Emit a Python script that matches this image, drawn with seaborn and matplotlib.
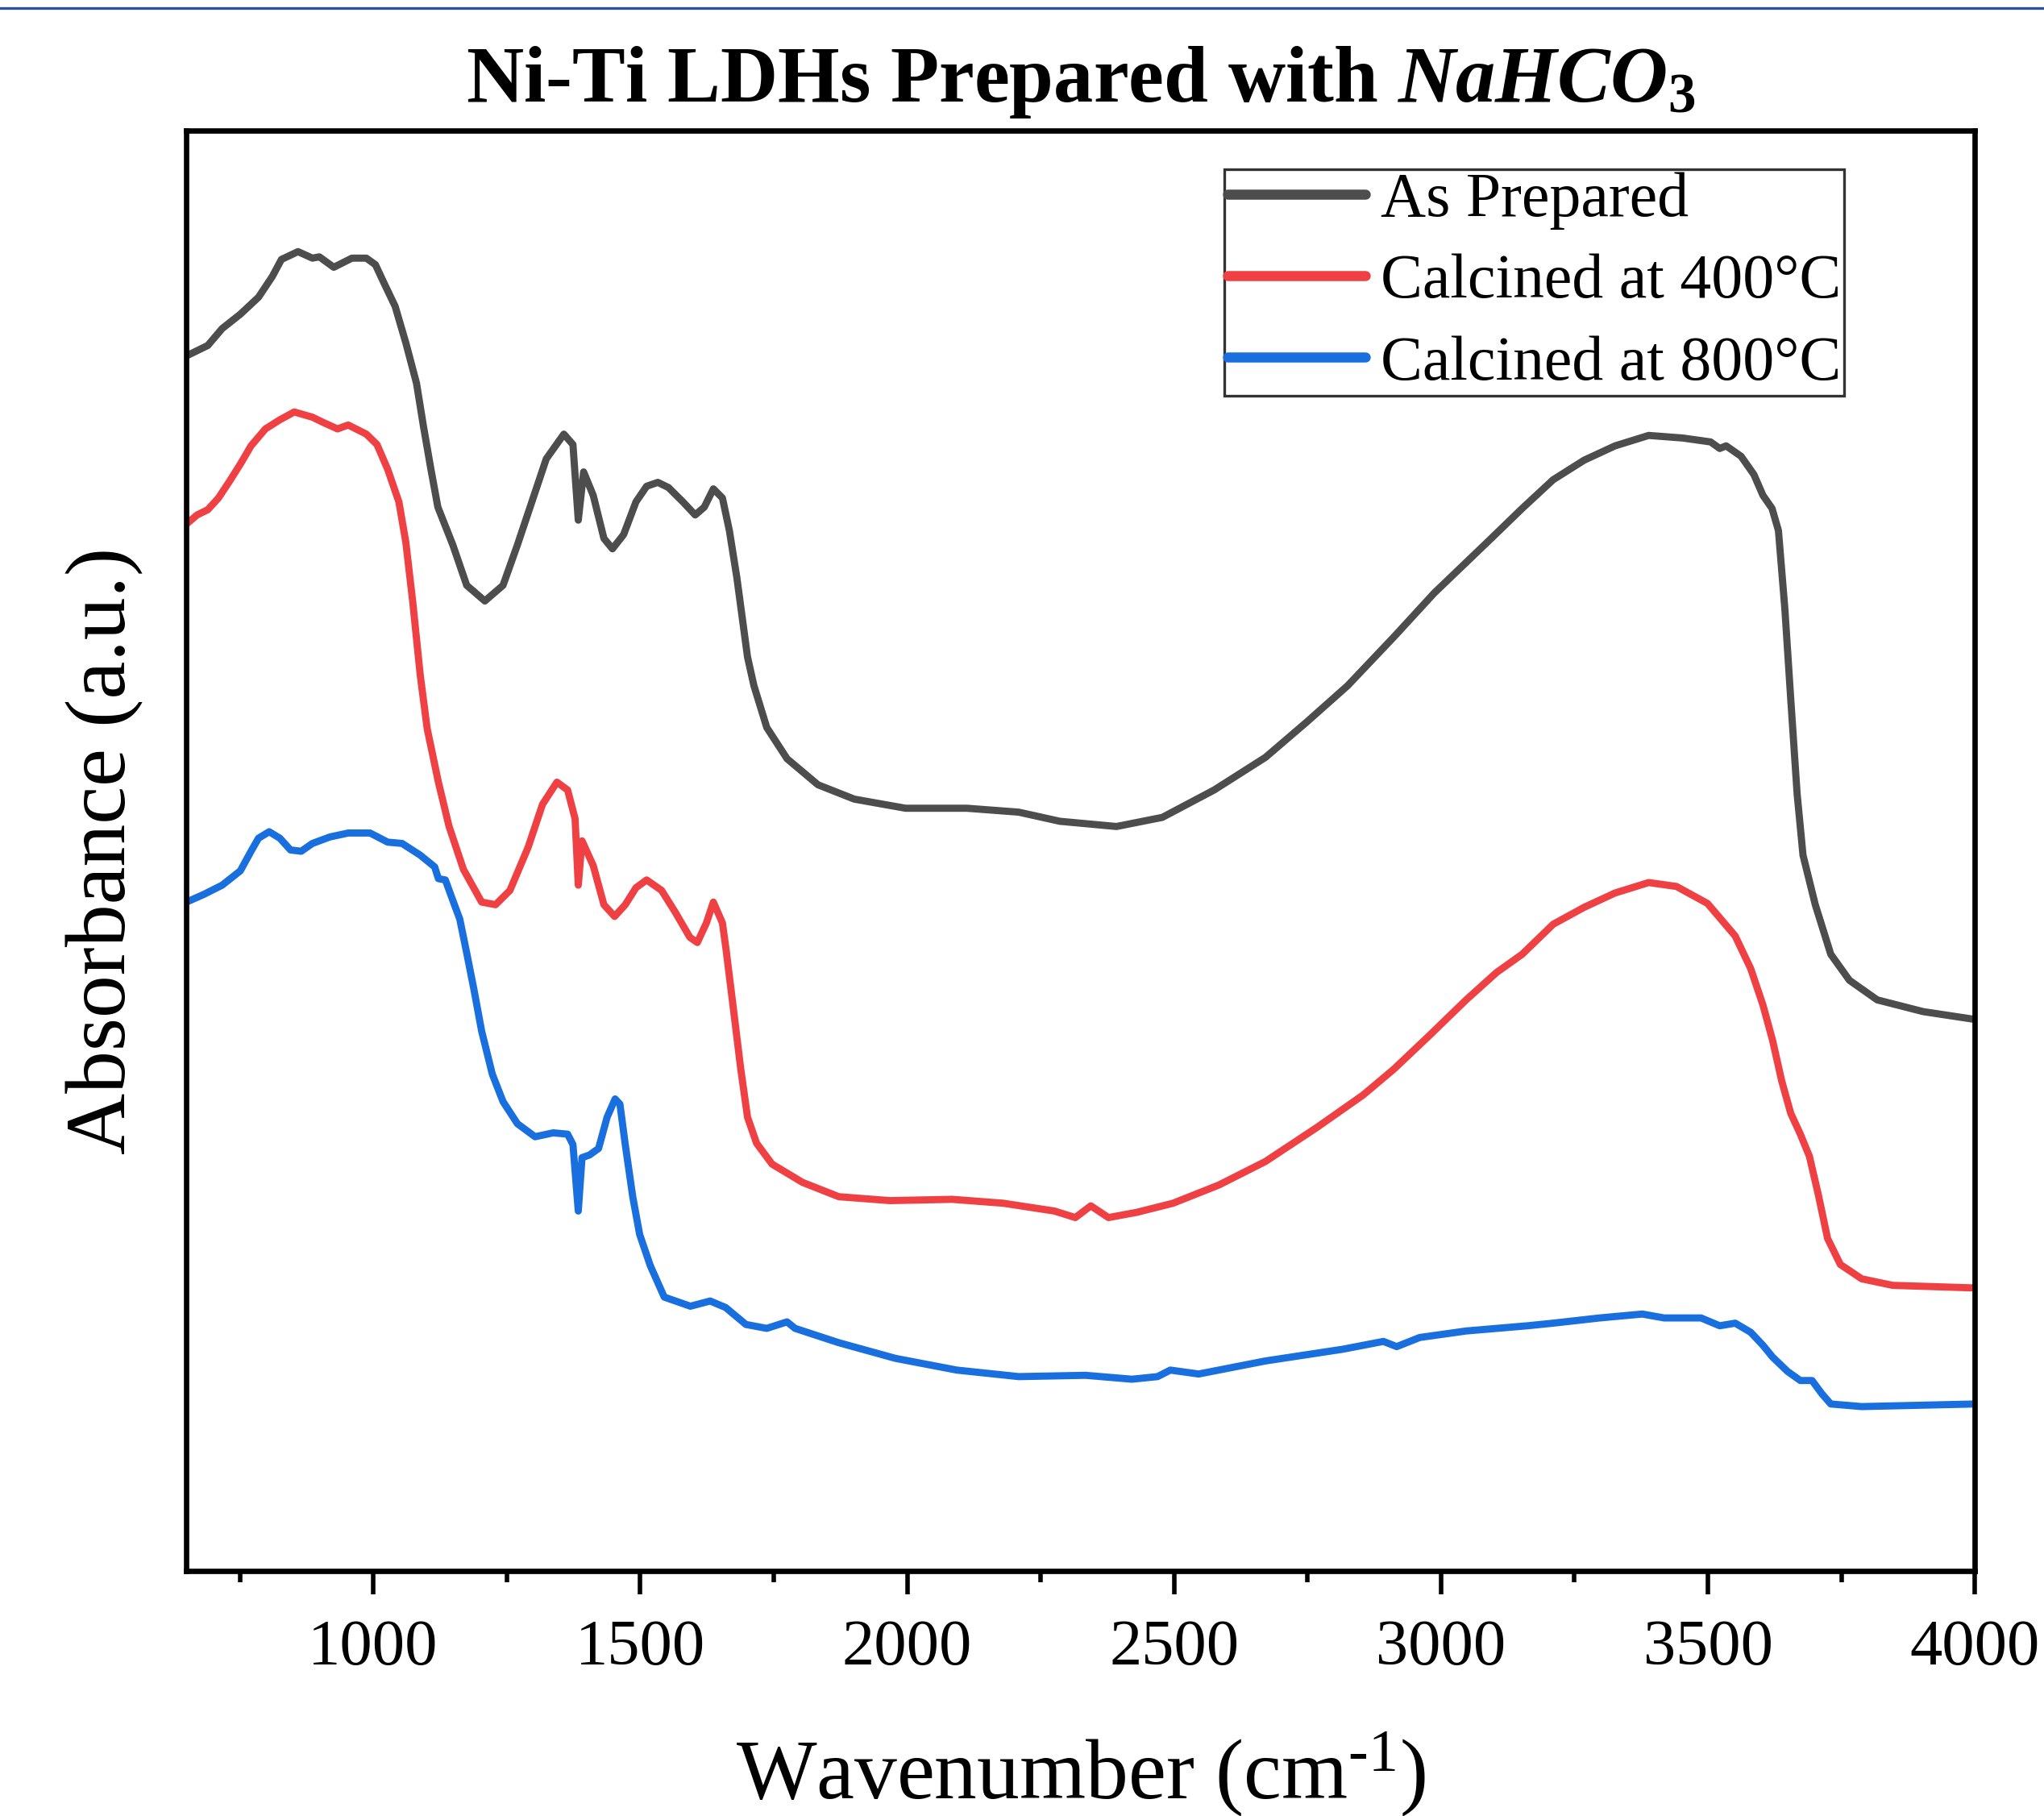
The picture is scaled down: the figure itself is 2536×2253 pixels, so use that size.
import numpy as np
import pandas as pd
import matplotlib
matplotlib.use("Agg")
import matplotlib.pyplot as plt
import seaborn as sns
from matplotlib.lines import Line2D
from matplotlib.ticker import MultipleLocator

# ---------------- data (arbitrary absorbance units, stacked as in the figure) ----------------
wn_prepared = [650, 690, 717, 751, 785, 811, 828, 859, 886, 899,
               926, 960, 987, 1004, 1020, 1041, 1061, 1081, 1094, 1108,
               1121, 1149, 1175, 1209, 1243, 1270, 1297, 1324, 1357, 1374,
               1384, 1394, 1412, 1432, 1448, 1469, 1492, 1512, 1533, 1553,
               1580, 1603, 1620, 1637, 1654, 1667, 1681, 1701, 1713, 1737,
               1775, 1833, 1901, 1997, 2112, 2209, 2286, 2392, 2478, 2575,
               2671, 2748, 2825, 2913, 2987, 3094, 3152, 3210, 3268, 3326,
               3389, 3453, 3505, 3522, 3534, 3562, 3586, 3603, 3620, 3632,
               3644, 3655, 3667, 3678, 3701, 3730, 3765, 3817, 3903, 4000]
abs_prepared = [932, 940, 953, 964, 977, 993, 1006, 1012, 1007, 1008,
                1000, 1007, 1007, 1002, 988, 970, 942, 911, 878, 845,
                816, 787, 756, 744, 756, 787, 820, 853, 872, 864,
                806, 843, 825, 792, 784, 795, 820, 832, 835, 831,
                820, 810, 816, 830, 823, 798, 762, 701, 679, 647,
                623, 603, 592, 585, 585, 582, 575, 571, 578, 599,
                624, 651, 679, 717, 750, 792, 815, 837, 852, 863,
                871, 869, 866, 861, 863, 855, 841, 825, 815, 798,
                738, 669, 596, 549, 511, 473, 453, 438, 429, 423]

wn_400 = [650, 670, 690, 710, 731, 751, 771, 798, 825, 852,
          886, 906, 933, 953, 987, 1007, 1027, 1048, 1061, 1074,
          1088, 1101, 1122, 1142, 1169, 1203, 1229, 1256, 1290, 1317,
          1344, 1364, 1378, 1384, 1391, 1412, 1432, 1452, 1472, 1492,
          1512, 1540, 1566, 1593, 1607, 1624, 1637, 1654, 1661, 1674,
          1688, 1701, 1718, 1747, 1804, 1872, 1968, 2084, 2180, 2276,
          2315, 2344, 2377, 2430, 2498, 2584, 2671, 2767, 2854, 2912,
          2979, 3047, 3104, 3152, 3210, 3268, 3326, 3389, 3441, 3499,
          3522, 3551, 3580, 3603, 3621, 3638, 3655, 3673, 3690, 3707,
          3724, 3748, 3788, 3846, 4000]
abs_400 = [803, 810, 814, 823, 836, 849, 863, 876, 883, 889,
           885, 881, 876, 879, 872, 864, 845, 820, 789, 743,
           687, 646, 605, 571, 538, 513, 511, 522, 555, 588,
           605, 599, 577, 526, 560, 541, 511, 502, 511, 524,
           530, 522, 505, 486, 482, 497, 513, 497, 476, 433,
           386, 348, 328, 312, 298, 287, 284, 285, 282, 276,
           271, 280, 271, 275, 282, 296, 314, 340, 365, 385,
           411, 438, 459, 473, 496, 509, 520, 528, 525, 512,
           501, 487, 462, 434, 407, 376, 351, 335, 318, 288,
           255, 235, 224, 219, 217]

wn_800 = [650, 683, 717, 751, 771, 785, 805, 825, 845, 865,
          886, 919, 953, 994, 1027, 1054, 1088, 1115, 1122, 1135,
          1152, 1162, 1175, 1189, 1203, 1223, 1243, 1270, 1303, 1337,
          1364, 1374, 1384, 1391, 1405, 1422, 1438, 1453, 1462, 1472,
          1486, 1499, 1519, 1545, 1594, 1631, 1660, 1698, 1737, 1775,
          1790, 1872, 1978, 2093, 2209, 2334, 2421, 2469, 2493, 2546,
          2671, 2816, 2892, 2917, 2960, 3047, 3162, 3210, 3297, 3377,
          3418, 3487, 3522, 3551, 3580, 3603, 3621, 3649, 3673, 3695,
          3713, 3730, 3788, 4000]
abs_800 = [513, 519, 526, 537, 552, 562, 567, 562, 553, 552,
           558, 563, 566, 566, 559, 558, 549, 540, 531, 530,
           511, 500, 474, 445, 414, 381, 360, 343, 333, 336,
           335, 327, 276, 317, 319, 324, 348, 362, 358, 327,
           287, 258, 234, 210, 203, 207, 202, 189, 186, 191,
           186, 175, 163, 154, 149, 150, 147, 149, 154, 151,
           161, 170, 176, 172, 179, 184, 188, 190, 194, 197,
           194, 194, 188, 190, 183, 173, 164, 153, 146, 146,
           136, 128, 126, 128]

series_names = ["As Prepared", "Calcined at 400°C", "Calcined at 800°C"]
series_colors = ["#4d4d4d", "#ef4043", "#1a6fdf"]
x_ticks = [1000, 1500, 2000, 2500, 3000, 3500, 4000]

df = pd.concat([
    pd.DataFrame({"Wavenumber": wn_prepared, "Absorbance": abs_prepared, "Sample": series_names[0]}),
    pd.DataFrame({"Wavenumber": wn_400, "Absorbance": abs_400, "Sample": series_names[1]}),
    pd.DataFrame({"Wavenumber": wn_800, "Absorbance": abs_800, "Sample": series_names[2]}),
], ignore_index=True)

# ---------------- style ----------------
sns.set_style("white")
plt.rcParams["font.family"] = ["Liberation Serif", "DejaVu Serif"]
plt.rcParams["text.color"] = "black"
plt.rcParams["axes.labelcolor"] = "black"
plt.rcParams["xtick.color"] = "black"
plt.rcParams["ytick.color"] = "black"
plt.rcParams["mathtext.fontset"] = "custom"
plt.rcParams["mathtext.rm"] = "Liberation Serif"
plt.rcParams["mathtext.it"] = "Liberation Serif:italic"
plt.rcParams["mathtext.bf"] = "Liberation Serif:bold"
try:
    plt.rcParams["mathtext.bfit"] = "Liberation Serif:bold:italic"
except KeyError:
    pass

fig = plt.figure(figsize=(12.68, 11.265), dpi=200)
ax = fig.add_axes([0.0912, 0.135, 0.875, 0.7932])

sns.lineplot(data=df, x="Wavenumber", y="Absorbance", hue="Sample",
             palette=dict(zip(series_names, series_colors)), hue_order=series_names,
             estimator=None, sort=False, linewidth=3.2, ax=ax)

ax.set_xlim(650, 4000)
ax.set_ylim(0, 1105)
ax.set_xticks(x_ticks)
ax.xaxis.set_minor_locator(MultipleLocator(250))
ax.set_yticks([])
ax.tick_params(axis="x", which="major", direction="out", length=10.5, width=2.0,
               labelsize=29, pad=11, bottom=True, color="black", labelcolor="black")
ax.tick_params(axis="x", which="minor", direction="out", length=5, width=2.0,
               bottom=True, color="black")
for s in ax.spines.values():
    s.set_visible(True)
    s.set_color("black")
    s.set_linewidth(2.4)

ax.set_xlabel(r"Wavenumber (cm$^{\text{-1}}$)", fontsize=38, color="black")
ax.xaxis.label.set_va("baseline")
ax.xaxis.set_label_coords(0.5, -0.158)
ax.set_ylabel("Absorbance (a.u.)", fontsize=38, color="black")
ax.yaxis.set_label_coords(-0.024, 0.5)

ax.set_title(r"Ni-Ti LDHs Prepared with $\mathbfit{NaHCO}_{\mathbf{3}}$", fontsize=35.5,
             fontweight="bold", pad=13, color="black")

handles = [Line2D([0], [0], color=c, lw=4.5, solid_capstyle="round") for c in series_colors]
leg = ax.legend(handles, series_names, loc="upper right", bbox_to_anchor=(0.927, 0.973),
                borderaxespad=0, fontsize=28, frameon=True, fancybox=False,
                handlelength=2.2, handletextpad=0.25, borderpad=0.05, labelspacing=0.38)
leg.get_frame().set_edgecolor("black")
leg.get_frame().set_linewidth(1.2)
for t in leg.get_texts():
    t.set_color("black")

fig.add_artist(Line2D([0, 1], [0.9956, 0.9956], transform=fig.transFigure,
                      color="#2c4f9e", lw=1.2))

fig.savefig("out.png", dpi=200, facecolor="white")
